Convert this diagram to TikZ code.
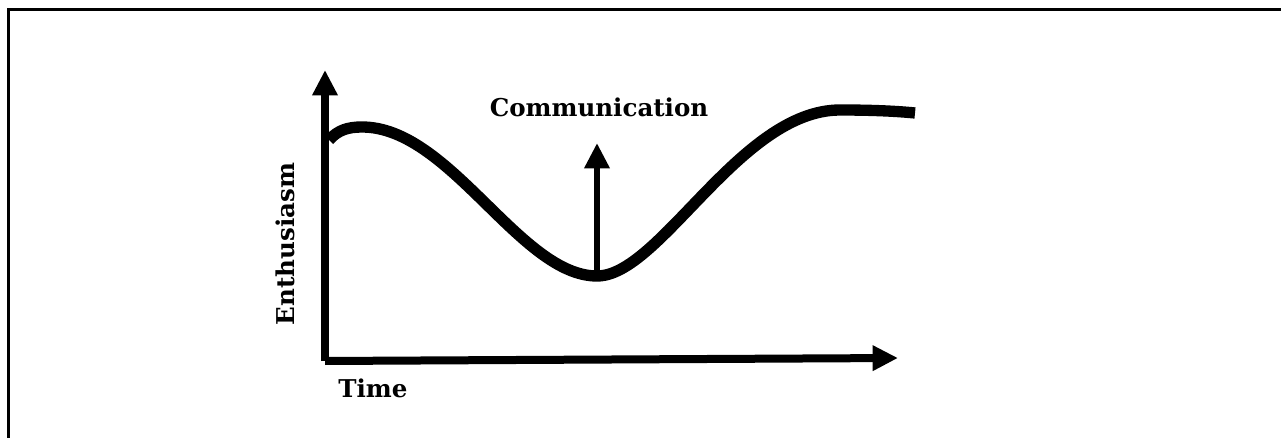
\documentclass[tikz,border=0pt]{standalone}
\usepackage{fontspec}
\setmainfont{DejaVu Serif}
\usetikzlibrary{arrows.meta}
\tikzset{
  axisline/.style={line width=6pt, -{Triangle[length=19pt,width=18pt]}},
  commarrow/.style={line width=5pt, -{Triangle[length=19pt,width=18pt]}},
  curveline/.style={line width=8.5pt, line join=round},
  lbl/.style={font=\bfseries\fontsize{18.4}{20}\selectfont, inner sep=0pt},
  frameline/.style={line width=2.25pt}
}
\begin{document}
\begin{tikzpicture}[x=0.75pt,y=-0.75pt]
\useasboundingbox (0,0) rectangle (1281,438);
\fill[white] (0,0) rectangle (1281,438);
% frame (top and left edges)
\coordinate (fa) at (8,438);
\coordinate (fb) at (8,10);
\coordinate (fc) at (1281,10);
\draw[frameline] (fa) -- (fb) -- (fc);
% axes
\coordinate (o) at (325,361);
\coordinate (ytip) at (325,70);
\coordinate (xtip) at (898,358);
\draw[axisline] (o) -- (ytip);
\draw[axisline] (o) -- (xtip);
% curve
\coordinate (c0) at (329,140);
\coordinate (cpeak) at (362,127);
\coordinate (cmin) at (597,276);
\coordinate (ctop) at (840,110);
\coordinate (cend) at (915,113);
\draw[curveline] (c0) .. controls (338,130) and (348,127) .. (cpeak)
  .. controls (450,127) and (520,276) .. (cmin)
  .. controls (660,276) and (740,110) .. (ctop)
  .. controls (870,110) and (895,111) .. (cend);
% communication arrow
\coordinate (ctip) at (597,143);
\draw[commarrow] (cmin) -- (ctip);
% labels
\node[lbl] (comm) at (599,107) {Communication};
\node[lbl, anchor=west] (time) at (338,388) {Time};
\node[lbl, rotate=90] (enth) at (285,244) {Enthusiasm};
\end{tikzpicture}
\end{document}
